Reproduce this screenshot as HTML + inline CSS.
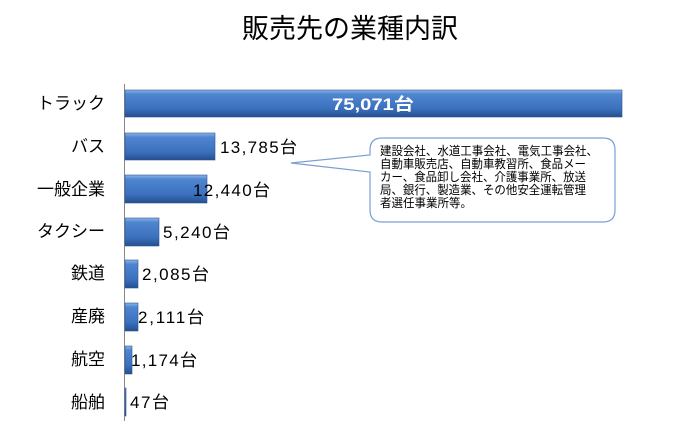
<!DOCTYPE html>
<html><head><meta charset="utf-8"><style>
body{margin:0;background:#fff;}
svg text{font-family:"Liberation Sans","Noto Sans CJK JP",sans-serif;}
</style></head><body>
<svg width="700" height="434" viewBox="0 0 700 434" xmlns="http://www.w3.org/2000/svg">
<defs>
<linearGradient id="g" x1="0" y1="0" x2="0" y2="1">
<stop offset="0" stop-color="#8fb4e8"/>
<stop offset="0.15" stop-color="#4f86d0"/>
<stop offset="0.7" stop-color="#3b70bd"/>
<stop offset="1" stop-color="#244f8e"/>
</linearGradient>
</defs>
<text x="350" y="38" font-size="27" text-anchor="middle" fill="#000">販売先の業種内訳</text>
<line x1="124.5" y1="84" x2="124.5" y2="421" stroke="#888" stroke-width="1"/>
<g fill="url(#g)" stroke="#2c5590" stroke-width="0.6">
<rect x="125" y="90" width="497" height="27"/>
<rect x="125" y="133" width="90" height="27"/>
<rect x="125" y="175" width="82" height="28"/>
<rect x="125" y="218" width="34" height="28"/>
<rect x="125" y="260" width="13" height="28"/>
<rect x="125" y="303" width="13" height="28"/>
<rect x="125" y="346" width="7" height="28"/>
<rect x="125" y="388" width="1" height="28"/>
</g>
<g font-size="17" fill="#000" text-anchor="end">
<text x="105" y="109">トラック</text>
<text x="105" y="152">バス</text>
<text x="105" y="195">一般企業</text>
<text x="105" y="237">タクシー</text>
<text x="105" y="279">鉄道</text>
<text x="105" y="322">産廃</text>
<text x="105" y="365">航空</text>
<text x="105" y="408">船舶</text>
</g>
<text x="332" y="110" font-size="17" font-weight="bold" fill="#fff" textLength="82" lengthAdjust="spacingAndGlyphs">75,071台</text>
<g font-size="17" fill="#000">
<text x="220" y="153" textLength="77">13,785台</text>
<text x="193" y="196" textLength="77">12,440台</text>
<text x="163" y="238" textLength="67">5,240台</text>
<text x="142" y="280" textLength="67">2,085台</text>
<text x="138" y="323" textLength="66">2,111台</text>
<text x="131" y="366" textLength="66">1,174台</text>
<text x="130" y="408" textLength="39">47台</text>
</g>
<path d="M382,138 H603 Q615,138 615,150 V210 Q615,222 603,222 H382 Q370,222 370,210 V172 L291,163 L370,155 V150 Q370,138 382,138 Z" fill="#fff" stroke="#7a9fd4" stroke-width="1.2"/>
<g font-size="12" fill="#000">
<text x="380" y="155" textLength="218" lengthAdjust="spacingAndGlyphs">建設会社、水道工事会社、電気工事会社、</text>
<text x="380" y="168" textLength="206" lengthAdjust="spacingAndGlyphs">自動車販売店、自動車教習所、食品メー</text>
<text x="380" y="181" textLength="206" lengthAdjust="spacingAndGlyphs">カー、食品卸し会社、介護事業所、放送</text>
<text x="380" y="194" textLength="206" lengthAdjust="spacingAndGlyphs">局、銀行、製造業、その他安全運転管理</text>
<text x="380" y="207" textLength="92" lengthAdjust="spacingAndGlyphs">者選任事業所等。</text>
</g>
</svg>
</body></html>
